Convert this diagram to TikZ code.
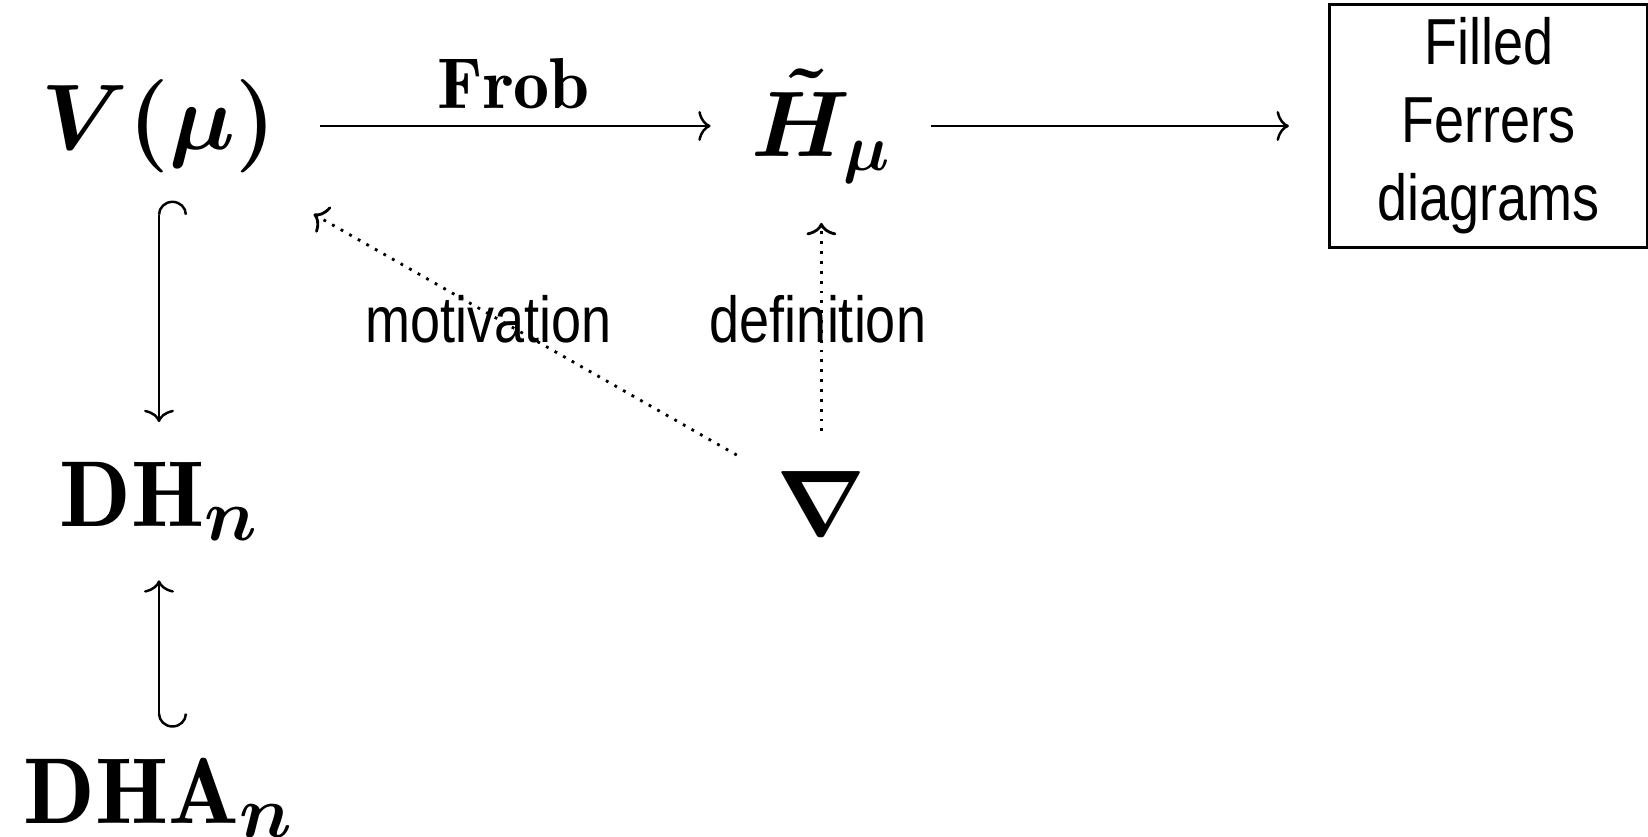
\RequirePackage{fix-cm}
\documentclass[tikz,border=0pt]{standalone}
\usepackage{amsmath}
\usepackage{fontspec}
\setsansfont{Liberation Sans}[FakeStretch=0.83]
\usetikzlibrary{positioning,arrows.meta}
% larger subscripts for the DH nodes
\DeclareMathSizes{26.6}{26.6}{21}{17}

\begin{document}
\begin{tikzpicture}[
  x=0.01cm, y=-0.01cm,
  node distance=1cm, on grid,
  obj/.style={inner sep=0pt, outer sep=0pt, font=\fontsize{26.5}{32}\selectfont},
  objn/.style={obj, font=\fontsize{26.6}{32}\selectfont},
  ferrbox/.style={
    draw, line width=1pt, align=center, inner sep=0pt,
    minimum width=3.18cm, minimum height=2.43cm,
    font=\sffamily\fontsize{18.5}{22.2}\selectfont,
  },
  note/.style={font=\sffamily\fontsize{18.5}{22}\selectfont, inner sep=0pt, anchor=base},
  maplab/.style={font=\fontsize{20.5}{24}\selectfont, inner sep=4.5pt},
  arrow/.style={-{Computer Modern Rightarrow[length=3.5pt, width=8.5pt]}, line width=0.7pt},
  hookdown/.style={{Hooks[length=4pt, width=16pt, right]}-{Computer Modern Rightarrow[length=3.5pt, width=8.5pt]}, line width=0.7pt},
  hookup/.style={{Hooks[length=4pt, width=16pt, left]}-{Computer Modern Rightarrow[length=3.5pt, width=8.5pt]}, line width=0.7pt},
  dotarrow/.style={-{Computer Modern Rightarrow[length=3.5pt, width=8.5pt]}, dotted, line width=0.8pt}
]
\useasboundingbox (0,0) rectangle (1648,837);

% Row 1
\node[obj] (V) at (159,126) {$\boldsymbol{V(\mu)}$};
\node[obj, right=6.62cm of V] (H) {$\boldsymbol{\tilde{H}_{\mu}}$};
\node[ferrbox, right=6.67cm of H] (ferrers) {Filled\\Ferrers\\diagrams};

% Left column and nabla
\node[objn, below=3.75cm of V] (DH) {$\mathbf{DH}_{\boldsymbol{n}}$};
\node[objn, below=2.96cm of DH] (DHA) {$\mathbf{DHA}_{\boldsymbol{n}}$};
\node[obj, below=3.77cm of H] (nabla) {$\boldsymbol{\nabla}$};

% Row 1 arrows
\draw[arrow, shorten <=4.4mm, shorten >=4.1mm] (V) -- node[maplab, above] (frob) {$\mathbf{Frob}$} (H);
\draw[arrow, shorten <=4mm, shorten >=3.9mm] (H) -- (ferrers);

% Inclusions
\draw[hookdown, shorten <=2.8mm, shorten >=4mm] (V) -- (DH);
\draw[hookup, shorten <=3mm, shorten >=4mm] (DHA) -- (DH);

% Dotted arrows from nabla
\draw[dotarrow, shorten <=4.6mm, shorten >=8.4mm] (nabla) -- (V);
\draw[dotarrow, shorten <=4mm, shorten >=4mm] (nabla) -- (H);

% Labels
\node[note] (motiv) at (489,343) {motivation};
\node[note] (defn) at (818,343) {definition};

\end{tikzpicture}
\end{document}
